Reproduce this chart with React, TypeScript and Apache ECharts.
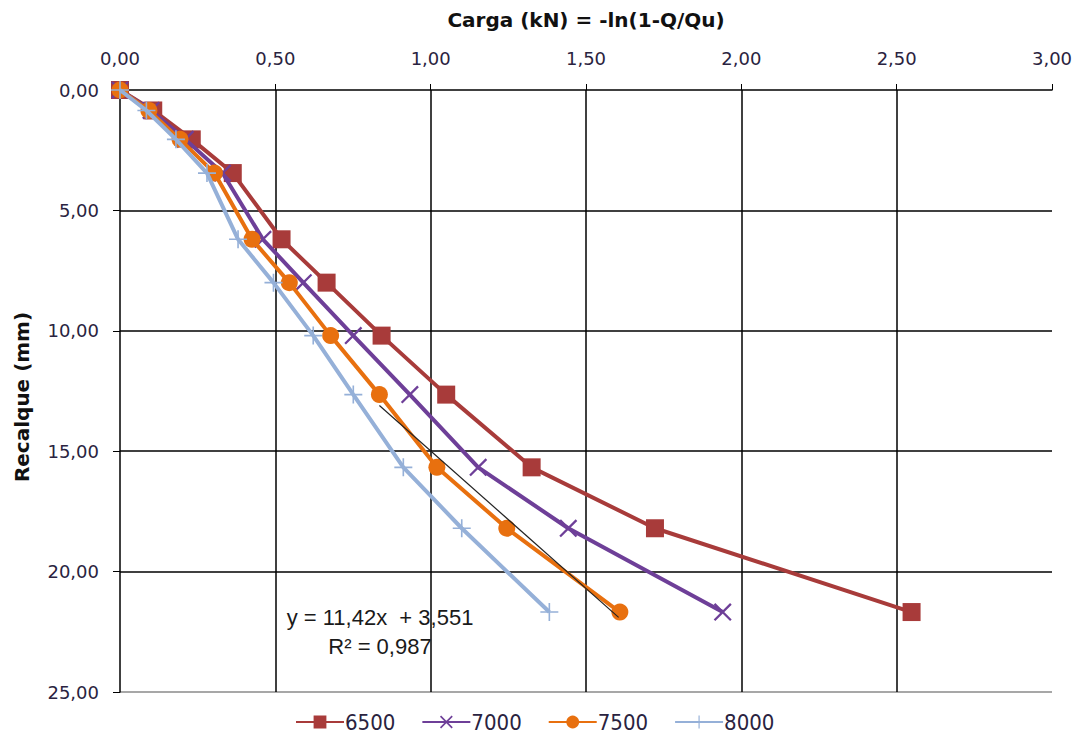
import React, { useEffect, useRef } from "react";
import * as echarts from "echarts";

const recalque = [0, 0.85, 2.05, 3.45, 6.2, 8.0, 10.2, 12.65, 15.67, 18.2, 21.68];
const carga6500 = [0, 0.107, 0.231, 0.363, 0.52, 0.665, 0.842, 1.05, 1.325, 1.722, 2.548];
const carga7000 = [0, 0.1, 0.21, 0.33, 0.46, 0.59, 0.751, 0.933, 1.153, 1.443, 1.94];
const carga7500 = [0, 0.093, 0.193, 0.304, 0.425, 0.545, 0.678, 0.835, 1.02, 1.245, 1.609];
const carga8000 = [0, 0.085, 0.18, 0.28, 0.38, 0.494, 0.622, 0.751, 0.912, 1.1, 1.382];
const seriesNames = ["6500", "7000", "7500", "8000"];
const trendX = [0.835, 1.605];
const trendY = [13.1, 21.9];
const equationText = "y = 11,42x  + 3,551";
const r2Text = "R² = 0,987";
const xTitle = "Carga (kN) = -ln(1-Q/Qu)";
const yTitle = "Recalque (mm)";

const colors = ["#A83B3A", "#6E3F98", "#E8700F", "#95B0D8"];
const X_PATH = "path://M0,0.9L0.9,0L10,9.1L9.1,10Z M9.1,0L10,0.9L0.9,10L0,9.1Z";
const PLUS_PATH = "path://M4.55,0H5.45V10H4.55Z M0,4.55H10V5.45H0Z";

const pair = (xs: number[]) => xs.map((x, i) => [x, recalque[i]]);
const fmt = (v: number) => v.toFixed(2).replace(".", ",");
const textColor = "#2a2340";

export default function App() {
  const ref = useRef<HTMLDivElement>(null);
  useEffect(() => {
    document.body.style.margin = "0";
    const chart = echarts.init(ref.current!, null, { renderer: "svg" });
    const mk = (name: string, data: number[], idx: number, symbol: string, size: number) => ({
      name,
      type: "line",
      data: pair(data),
      symbol,
      symbolSize: size,
      showAllSymbol: true,
      lineStyle: { color: colors[idx], width: 4 },
      itemStyle: { color: colors[idx] },
      z: 3 + idx,
    });
    chart.setOption({
      animation: false,
      backgroundColor: "#ffffff",
      grid: { left: 120, right: 24, top: 90, bottom: 44 },
      legend: {
        data: seriesNames,
        bottom: -2,
        left: 290,
        itemWidth: 48,
        itemHeight: 16,
        itemGap: 26,
        textStyle: { fontFamily: "Liberation Sans Narrow, DejaVu Sans Condensed, sans-serif", fontSize: 22, color: textColor, padding: [0, 0, 0, -4] },
      },
      xAxis: {
        type: "value",
        position: "top",
        min: 0,
        max: 3,
        interval: 0.5,
        name: xTitle,
        nameLocation: "middle",
        nameGap: 60,
        nameTextStyle: { fontFamily: "DejaVu Sans", fontWeight: "bold", fontSize: 20, color: "#111" },
        axisLine: { show: true, lineStyle: { color: "#000", width: 1.5 } },
        axisTick: { show: true, inside: false, length: 6, lineStyle: { color: "#000" } },
        axisLabel: { formatter: fmt, margin: 23, fontFamily: "DejaVu Sans", fontSize: 18, color: textColor },
        splitLine: {
          show: true,
          lineStyle: { color: ["transparent", "#000", "#000", "#000", "#000", "#000", "transparent"], width: 1.5 },
        },
      },
      yAxis: {
        type: "value",
        inverse: true,
        min: 0,
        max: 25,
        interval: 5,
        axisLine: { show: true, lineStyle: { color: "#000", width: 1.5 } },
        axisTick: { show: true, inside: false, length: 7, lineStyle: { color: "#000" } },
        axisLabel: { formatter: fmt, margin: 21, fontFamily: "DejaVu Sans", fontSize: 18, color: textColor },
        splitLine: {
          show: true,
          lineStyle: { color: ["transparent", "#000", "#000", "#000", "#000", "#8a8a8a"], width: 1.5 },
        },
      },
      graphic: [
        {
          type: "text",
          x: 22,
          y: 397,
          rotation: Math.PI / 2,
          style: {
            text: yTitle,
            fontFamily: "DejaVu Sans",
            fontWeight: "bold",
            fontSize: 20,
            fill: "#111",
            textAlign: "center",
            textVerticalAlign: "middle",
          },
        },
        {
          type: "text",
          x: 380,
          y: 617,
          z: 20,
          style: {
            text: equationText,
            fontFamily: "Liberation Sans, Arial, sans-serif",
            fontSize: 22,
            fill: "#1a1a1a",
            textAlign: "center",
            textVerticalAlign: "middle",
          },
        },
        {
          type: "text",
          x: 380,
          y: 646,
          z: 20,
          style: {
            text: r2Text,
            fontFamily: "Liberation Sans, Arial, sans-serif",
            fontSize: 22,
            fill: "#1a1a1a",
            textAlign: "center",
            textVerticalAlign: "middle",
          },
        },
      ],
      series: [
        mk(seriesNames[0], carga6500, 0, "rect", 18),
        mk(seriesNames[1], carga7000, 1, X_PATH, 18),
        mk(seriesNames[2], carga7500, 2, "circle", 17),
        mk(seriesNames[3], carga8000, 3, PLUS_PATH, 18),
        {
          name: "Linear (7500)",
          type: "line",
          data: trendX.map((x, i) => [x, trendY[i]]),
          symbol: "none",
          lineStyle: { color: "#222", width: 1.2 },
          z: 10,
        },
      ],
    });
    return () => chart.dispose();
  }, []);
  return <div ref={ref} style={{ width: 1076, height: 736 }} />;
}
